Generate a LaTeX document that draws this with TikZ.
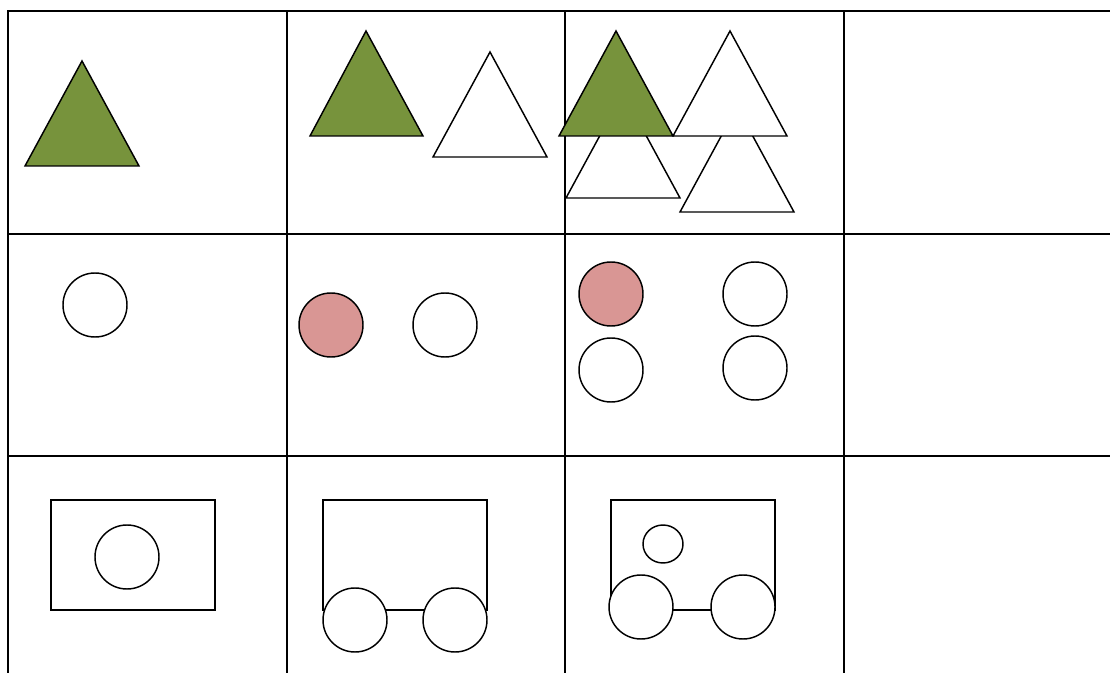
\documentclass[tikz,border=0pt]{standalone}
\definecolor{tgreen}{HTML}{77933C}
\definecolor{tpink}{HTML}{D99694}
\begin{document}
\begin{tikzpicture}[x=0.75pt,y=-0.75pt,
  grid/.style={line width=1.5pt},
  shp/.style={line width=1.1pt,draw=black,fill=white,line join=miter},
  gtri/.style={shp,fill=tgreen},
  pcirc/.style={shp,fill=tpink}]
\useasboundingbox (0,0) rectangle (1110,673);
% grid
\draw[grid] (8,673) -- (8,11) -- (1110,11);
\draw[grid] (8,234) -- (1110,234);
\draw[grid] (8,456) -- (1110,456);
\draw[grid] (287,11) -- (287,673);
\draw[grid] (565,11) -- (565,673);
\draw[grid] (844,11) -- (844,673);
% row 1
\draw[gtri] (82,61) -- (139,166) -- (25,166) -- cycle;
\draw[gtri] (366,31) -- (423,136) -- (310,136) -- cycle;
\draw[shp] (490,52) -- (547,157) -- (433,157) -- cycle;
\draw[shp] (623,93) -- (680,198) -- (566,198) -- cycle;
\draw[shp] (737,107) -- (794,212) -- (680,212) -- cycle;
\draw[gtri] (616,31) -- (673,136) -- (559,136) -- cycle;
\draw[shp] (730,31) -- (787,136) -- (673,136) -- cycle;
% row 2
\draw[shp] (95,305) circle[radius=32];
\draw[pcirc] (331,325) circle[radius=32];
\draw[shp] (445,325) circle[radius=32];
\draw[pcirc] (611,294) circle[radius=32];
\draw[shp] (755,294) circle[radius=32];
\draw[shp] (611,370) circle[radius=32];
\draw[shp] (755,368) circle[radius=32];
% row 3
\draw[shp] (51,500) rectangle (215,610);
\draw[shp] (127,557) circle[radius=32];
\draw[shp] (323,500) rectangle (487,610);
\draw[shp] (355,620) circle[radius=32];
\draw[shp] (455,620) circle[radius=32];
\draw[shp] (611,500) rectangle (775,610);
\draw[shp] (663,544) ellipse[x radius=20,y radius=19];
\draw[shp] (641,607) circle[radius=32];
\draw[shp] (743,607) circle[radius=32];
\end{tikzpicture}
\end{document}
